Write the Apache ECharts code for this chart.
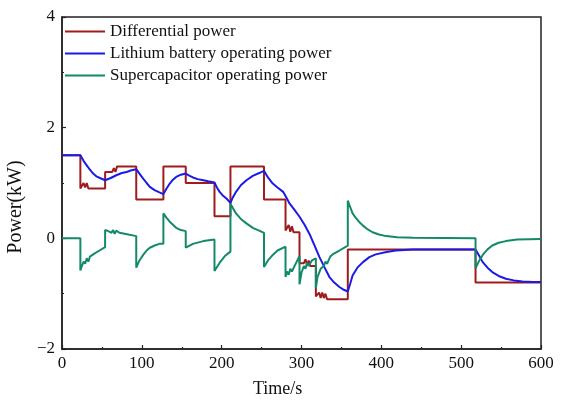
<!DOCTYPE html>
<html>
<head>
<meta charset="utf-8">
<script src="https://cdn.jsdelivr.net/npm/echarts@6/dist/echarts.min.js"></script>
<style>
html,body{margin:0;padding:0;background:#fff;}
#chart{width:561px;height:404px;}
</style>
</head>
<body>
<div id="chart"></div>
<script>
// Series names
var seriesNames = ["Differential power", "Lithium battery operating power", "Supercapacitor operating power"];

// Differential power [time s, power kW]
var differentialPower = [
  [0,1.5],[23,1.5],[23,0.9],[25,0.9],[27,1.0],[29,0.92],[31,1.0],[33,0.9],[54,0.9],
  [54,1.2],[63,1.2],[65,1.27],[67,1.2],[69,1.3],[93,1.3],[93,0.7],[127,0.7],
  [127,1.3],[155,1.3],[155,1.0],[191,1.0],[191,0.4],[211,0.4],[211,1.3],[253,1.3],
  [253,0.7],[280,0.7],[280,0.14],[282,0.14],[284,0.24],[286,0.12],[288,0.22],[290,0.11],
  [297.5,0.11],[297.5,-0.45],[303,-0.45],[305,-0.38],[307,-0.48],[309,-0.4],[311,-0.5],
  [318,-0.5],[318,-1.05],[320,-1.05],[322,-0.98],[324,-1.08],[326,-0.98],[328,-1.08],
  [330,-1.0],[332,-1.1],[358,-1.1],[358,-0.2],[518,-0.2],[518,-0.8],[600,-0.8]
];

// Lithium battery operating power
var lithiumPower = [
  [0,1.5],[23,1.5],[27,1.4],[31,1.32],[35,1.24],[39,1.17],[43,1.12],[47.5,1.09],[54,1.05],
  [61,1.09],[68,1.14],[75,1.18],[81,1.2],[87,1.23],[93,1.25],[97,1.17],[101.7,1.08],
  [106,1.0],[110,0.93],[116,0.87],[122,0.83],[127,0.8],[131,0.9],[135,0.99],[139,1.06],
  [143,1.11],[149,1.15],[155,1.17],[160,1.13],[164,1.1],[170,1.07],[177,1.05],[183,1.03],
  [191,1.01],[194,0.92],[197.5,0.84],[201,0.78],[206,0.72],[211,0.64],[214,0.74],[218,0.84],
  [224,0.96],[231,1.05],[239,1.13],[247,1.18],[253,1.22],[258,1.1],[264,0.99],[270,0.92],
  [277,0.84],[281,0.74],[285,0.63],[291,0.52],[297.5,0.39],[304,0.24],[310,0.08],
  [316,-0.12],[322.5,-0.34],[329,-0.53],[335,-0.7],[341,-0.8],[347.5,-0.88],[353,-0.93],
  [358,-0.96],[361,-0.82],[364,-0.67],[370,-0.53],[377,-0.43],[385,-0.34],[393,-0.29],
  [405,-0.25],[418,-0.22],[440,-0.2],[518,-0.2],[522,-0.3],[527,-0.43],[533,-0.53],
  [539,-0.61],[547,-0.68],[556,-0.73],[566,-0.76],[577,-0.78],[590,-0.79],[600,-0.79]
];

// Supercapacitor operating power
var supercapPower = [
  [0,0],[23,0],[23,-0.58],[25,-0.5],[27,-0.42],[29,-0.46],[31,-0.36],[33,-0.42],[35,-0.33],
  [40,-0.28],[47,-0.22],[54,-0.16],[54,0.15],[58,0.13],[62,0.1],[64,0.15],[66,0.08],
  [68,0.14],[72,0.1],[80,0.08],[93,0.04],[93,-0.53],[97,-0.4],[101.7,-0.3],[106,-0.22],
  [110,-0.17],[116,-0.13],[122,-0.1],[127,-0.1],[127,0.45],[131,0.37],[135,0.3],[143,0.19],
  [149,0.15],[155,0.13],[155,-0.17],[164,-0.1],[177,-0.05],[191,-0.02],[191,-0.59],
  [197.5,-0.44],[204,-0.32],[211,-0.24],[211,0.62],[214,0.55],[218,0.45],[224,0.35],
  [231,0.27],[239,0.19],[247,0.14],[253,0.1],[253,-0.52],[258,-0.4],[264,-0.3],[270,-0.22],
  [280,-0.15],[280,-0.7],[282,-0.6],[284,-0.66],[286,-0.55],[288,-0.6],[292,-0.48],
  [297.5,-0.32],[297.5,-0.83],[300,-0.62],[303,-0.5],[305,-0.55],[307,-0.44],[309,-0.5],
  [313,-0.4],[318,-0.36],[318,-0.9],[320,-0.7],[324,-0.55],[328,-0.5],[330,-0.42],
  [332,-0.46],[336,-0.33],[340,-0.28],[347.5,-0.22],[358,-0.13],[358,0.68],[360,0.6],
  [364,0.45],[368,0.37],[372,0.3],[377,0.23],[383,0.16],[389,0.11],[397,0.07],[406,0.04],
  [420,0.02],[440,0.01],[518,0],[518,-0.54],[522,-0.42],[527,-0.3],[533,-0.2],[539,-0.13],
  [547,-0.08],[556,-0.05],[570,-0.02],[600,-0.01]
];

var xAxisTitle = "Time/s";
var yAxisTitle = "Power(kW)";
var colors = ["#A01C1C", "#1B1BE8", "#13896A"];
var fontFam = "'Liberation Serif', 'Times New Roman', serif";

var chart = echarts.init(document.getElementById('chart'), null, {renderer: 'canvas'});
var dataSets = [differentialPower, lithiumPower, supercapPower];
var series = dataSets.map(function (d, i) {
  return {
    name: seriesNames[i],
    type: 'line',
    data: d,
    symbol: 'none',
    showSymbol: false,
    lineStyle: {color: colors[i], width: 2},
    itemStyle: {color: colors[i]},
    animation: false
  };
});

var axisCommon = {
  axisLine: {show: true, onZero: false, lineStyle: {color: '#222', width: 1.5}},
  axisTick: {show: true, inside: true, length: 4, lineStyle: {color: '#222', width: 1.2}},
  minorTick: {show: true, splitNumber: 2, length: 2, lineStyle: {color: '#222', width: 1.2}},
  splitLine: {show: false}
};

chart.setOption({
  animation: false,
  backgroundColor: '#fff',
  grid: {left: 62, right: 20, top: 17, bottom: 55, show: true, borderColor: '#222', borderWidth: 1.5, backgroundColor: 'transparent'},
  legend: {
    orient: 'vertical', left: 60, top: 18,
    icon: 'rect',
    itemWidth: 40, itemHeight: 2, itemGap: 5,
    textStyle: {fontFamily: fontFam, fontSize: 17, color: '#111', lineHeight: 17},
    data: seriesNames.map(function (n, i) { return {name: n, itemStyle: {color: colors[i]}}; })
  },
  xAxis: Object.assign({
    type: 'value', min: 0, max: 600, interval: 100,
    axisLabel: {fontFamily: fontFam, fontSize: 17, color: '#111', margin: 6}
  }, axisCommon),
  yAxis: Object.assign({
    type: 'value', min: -2, max: 4, interval: 2,
    axisLabel: {fontFamily: fontFam, fontSize: 17, color: '#111', margin: 7,
      formatter: function (v) { return String(v).replace('-', '\u2212'); }}
  }, axisCommon),
  graphic: [
    {type: 'text', left: 253, top: 380, style: {text: xAxisTitle, font: '18px ' + fontFam, fill: '#111'}},
    {type: 'text', x: 16, y: 207, rotation: Math.PI / 2, style: {text: yAxisTitle, font: '20px ' + fontFam, fill: '#111', align: 'center', verticalAlign: 'middle'}}
  ],
  series: series
});
</script>
</body>
</html>
